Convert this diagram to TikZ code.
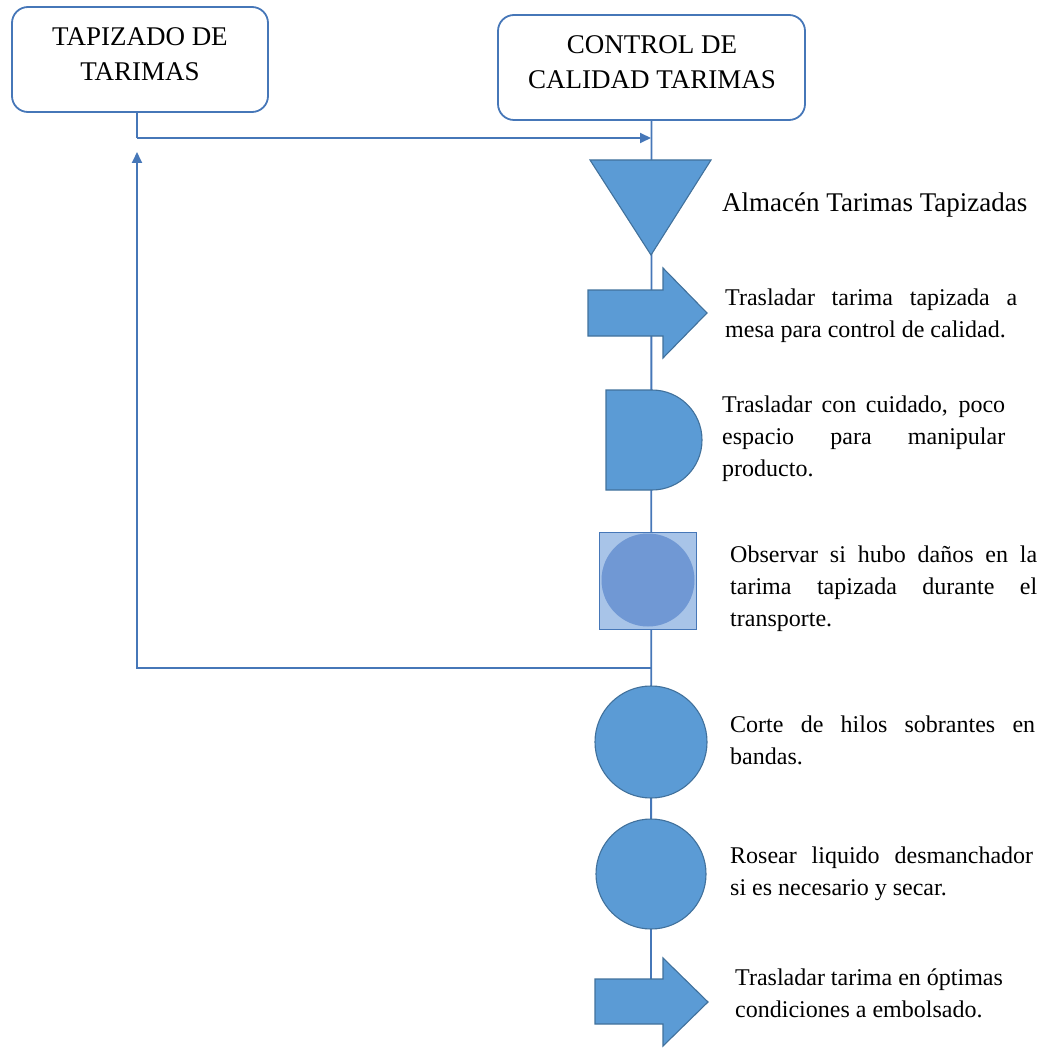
\documentclass[tikz,border=0pt]{standalone}
\usepackage{fontspec}
\setmainfont{Liberation Serif}
\usetikzlibrary{arrows.meta}
\definecolor{lineblue}{HTML}{4677B8}
\definecolor{symfill}{HTML}{5B9BD5}
\definecolor{symedge}{HTML}{41719C}
\definecolor{sqfill}{HTML}{A8C4E8}
\definecolor{insfill}{HTML}{7098D4}
\begin{document}
\begin{tikzpicture}[x=1pt,y=-1pt,
  flow/.style={draw=lineblue,line width=1.8pt},
  tipend/.style={-{Triangle[length=11pt,width=10pt]}},
  headbox/.style={draw=lineblue,line width=1.8pt,rounded corners=16pt,
    minimum width=256pt,minimum height=105pt,inner sep=0pt},
  headtext/.style={font=\fontsize{27}{35}\selectfont,align=center,inner sep=0pt,anchor=north},
  symbolfill/.style={fill=symfill,draw=symedge,line width=1.1pt},
  bodytext/.style={font=\fontsize{24}{32}\selectfont,align=left,inner sep=0pt,anchor=north west}
]
\useasboundingbox (0,0) rectangle (1045,1048);

% header boxes
\node[headbox] (tap) at (140,59.5) {};
\node[headbox,minimum width=307pt] (ctl) at (651.5,67.5) {};
\node[headtext] (tapT) at (140,27) {TAPIZADO DE\\TARIMAS};
\node[headtext] (ctlT) at (652,35) {CONTROL DE\\CALIDAD TARIMAS};

% junction points of the flow lines
\coordinate (j1) at (137,138);
\coordinate (j2) at (651,138);
\coordinate (j3) at (651,668);
\coordinate (j4) at (137,668);
\coordinate (j5) at (137,152);
\coordinate (lineEnd) at (651,980);

% flow lines
\draw[flow] (ctl.south) -- (lineEnd);
\draw[flow] (tap.south -| j1) -- (j1);
\draw[flow,tipend] (j1) -- (j2);
\draw[flow,tipend] (j3) -- (j4) -- (j5);

% storage
\path[symbolfill] (590,160) -- (711,160) -- (651,255) -- cycle;
% transport
\path[symbolfill] (588,290) -- (663,290) -- (663,268) -- (707,313) -- (663,358) -- (663,336) -- (588,336) -- cycle;
% delay
\path[symbolfill] (606,390) -- (652,390) arc[start angle=-90,end angle=90,radius=50] -- (606,490) -- cycle;
% combined inspection / operation
\node[draw=lineblue,fill=sqfill,line width=1.4pt,minimum size=97pt,inner sep=0pt] (insp) at (648,581) {};
\node[circle,fill=insfill,minimum size=93pt,inner sep=0pt] (inspc) at (648,580) {};
% operations
\node[symbolfill,circle,minimum size=112pt,inner sep=0pt] (cut) at (651,742) {};
\node[symbolfill,circle,minimum size=110pt,inner sep=0pt] (spray) at (651,874) {};
% final transport
\path[symbolfill] (595,979) -- (663,979) -- (663,958) -- (708,1002) -- (663,1046) -- (663,1024) -- (595,1024) -- cycle;

% descriptions
\node[anchor=base west,font=\fontsize{27}{32}\selectfont,inner sep=0pt] (almT) at (722,212) {Almacén Tarimas Tapizadas};
\node[bodytext] (t2) at (725,288.6) {\makebox[292pt][s]{Trasladar tarima tapizada a}\\mesa para control de calidad.};
\node[bodytext] (t3) at (722,395.6) {\makebox[283pt][s]{Trasladar con cuidado, poco}\\\makebox[283pt][s]{espacio para manipular}\\producto.};
\node[bodytext] (t4) at (730,545.6) {\makebox[307pt][s]{Observar si hubo daños en la}\\\makebox[307pt][s]{tarima tapizada durante el}\\transporte.};
\node[bodytext] (t5) at (730,715.6) {\makebox[305pt][s]{Corte de hilos sobrantes en}\\bandas.};
\node[bodytext] (t6) at (730,846.6) {\makebox[303pt][s]{Rosear liquido desmanchador}\\si es necesario y secar.};
\node[bodytext] (t7) at (735,968.6) {Trasladar tarima en óptimas\\condiciones a embolsado.};
\end{tikzpicture}
\end{document}
